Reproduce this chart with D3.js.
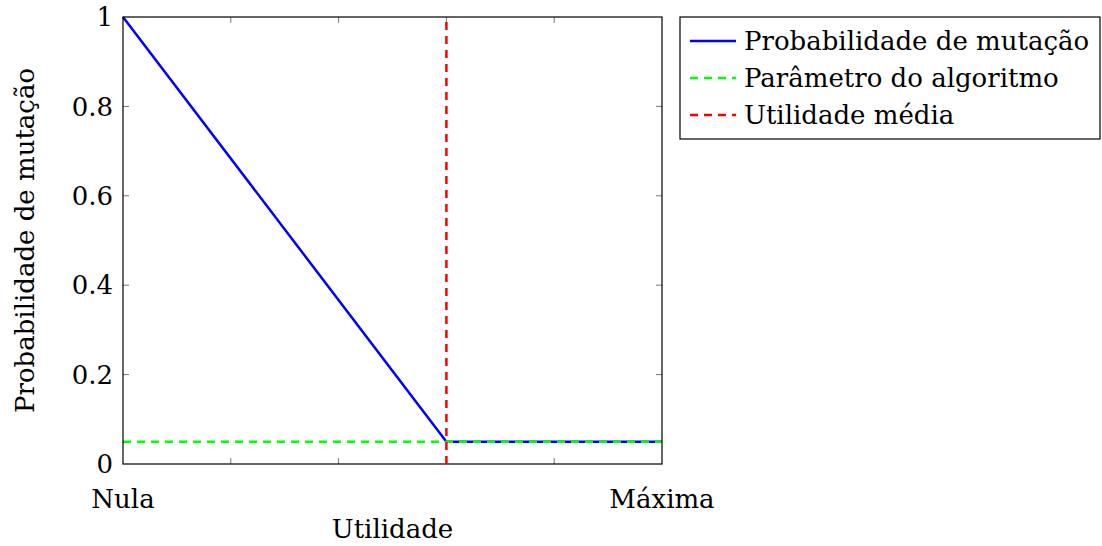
<!DOCTYPE html>
<html>
<head>
<meta charset="utf-8">
<script src="https://cdn.jsdelivr.net/npm/d3@7"></script>
<style>
  body { margin: 0; background: #fff; }
  text { font-family: "DejaVu Serif", "Liberation Serif", serif; }
</style>
</head>
<body>
<svg id="chart" width="1102" height="546"></svg>
<script>
// curve points (utility fraction -> mutation probability)
const curveX = [0, 0.6, 1];
const curveY = [1, 0.05, 0.05];
const paramValue = 0.05;      // parâmetro do algoritmo
const meanUtility = 0.6;      // utilidade média
const yTicks = [0, 0.2, 0.4, 0.6, 0.8, 1];
const xTicks = [0, 0.2, 0.4, 0.6, 0.8, 1];
const xTickLabels = [[0, "Nula"], [1, "Máxima"]];
const legendLabels = ["Probabilidade de mutação", "Parâmetro do algoritmo", "Utilidade média"];
const legendColors = ["#0000ff", "#00ff00", "#ff0000"];

const svg = d3.select("#chart");
const margin = { left: 123, right: 440, top: 17, bottom: 82 };
const width = 1102 - margin.left - margin.right;
const height = 546 - margin.top - margin.bottom;

const x = d3.scaleLinear().domain([0, 1]).range([margin.left, margin.left + width]);
const y = d3.scaleLinear().domain([0, 1]).range([margin.top + height, margin.top]);

const fontFamily = "DejaVu Serif";
const fontSize = 26;

// inner tick marks, like pgfplots
const tickLen = 6;
const ticks = svg.append("g").attr("stroke", "#777").attr("stroke-width", 1);
xTicks.slice(1, -1).forEach((t) => {
  ticks.append("line").attr("x1", x(t)).attr("x2", x(t)).attr("y1", y(0)).attr("y2", y(0) - tickLen);
  ticks.append("line").attr("x1", x(t)).attr("x2", x(t)).attr("y1", y(1)).attr("y2", y(1) + tickLen);
});
yTicks.slice(1, -1).forEach((t) => {
  ticks.append("line").attr("x1", x(0)).attr("x2", x(0) + tickLen).attr("y1", y(t)).attr("y2", y(t));
  ticks.append("line").attr("x1", x(1)).attr("x2", x(1) - tickLen).attr("y1", y(t)).attr("y2", y(t));
});

// y tick labels
svg.append("g")
  .selectAll("text")
  .data(yTicks)
  .join("text")
  .attr("x", x(0) - 10)
  .attr("y", (d) => y(d))
  .attr("dy", "0.35em")
  .attr("text-anchor", "end")
  .attr("font-family", fontFamily)
  .attr("font-size", fontSize)
  .text((d) => d3.format("")(d));

// x tick labels
svg.append("g")
  .selectAll("text")
  .data(xTickLabels)
  .join("text")
  .attr("x", (d) => x(d[0]))
  .attr("y", y(0) + 44)
  .attr("text-anchor", "middle")
  .attr("font-family", fontFamily)
  .attr("font-size", fontSize)
  .text((d) => d[1]);

// axis labels
svg.append("text")
  .attr("x", x(0.5))
  .attr("y", 538)
  .attr("text-anchor", "middle")
  .attr("font-family", fontFamily)
  .attr("font-size", fontSize)
  .text("Utilidade");

svg.append("text")
  .attr("transform", `translate(34, ${y(0.5)}) rotate(-90)`)
  .attr("text-anchor", "middle")
  .attr("font-family", fontFamily)
  .attr("font-size", fontSize)
  .text("Probabilidade de mutação");

// data lines
const curveData = curveX.map((v, i) => ({ x: v, y: curveY[i] }));
const line = d3.line().x((d) => x(d.x)).y((d) => y(d.y));

svg.append("path")
  .datum(curveData)
  .attr("fill", "none")
  .attr("stroke", legendColors[0])
  .attr("stroke-width", 2.5)
  .attr("stroke-linejoin", "round")
  .attr("d", line);

svg.append("path")
  .datum([{ x: 0, y: paramValue }, { x: 1, y: paramValue }])
  .attr("fill", "none")
  .attr("stroke", legendColors[1])
  .attr("stroke-width", 2.5)
  .attr("stroke-dasharray", "8,6")
  .attr("d", line);

// frame
svg.append("rect")
  .attr("x", x(0)).attr("y", y(1))
  .attr("width", width).attr("height", height)
  .attr("fill", "none").attr("stroke", "#000").attr("stroke-width", 1.2);

svg.append("path")
  .datum([{ x: meanUtility, y: 0 }, { x: meanUtility, y: 1 }])
  .attr("fill", "none")
  .attr("stroke", legendColors[2])
  .attr("stroke-width", 2.5)
  .attr("stroke-dasharray", "8,6")
  .attr("d", line);

// legend
const legend = svg.append("g").attr("transform", "translate(680, 17)");
legend.append("rect")
  .attr("width", 420).attr("height", 122)
  .attr("fill", "#fff").attr("stroke", "#000").attr("stroke-width", 1.2);
const dashes = [null, "8,6", "8,6"];
legendLabels.forEach((lab, i) => {
  const cy = 24 + i * 37;
  legend.append("line")
    .attr("x1", 10).attr("x2", 56).attr("y1", cy).attr("y2", cy)
    .attr("stroke", legendColors[i]).attr("stroke-width", 2.5)
    .attr("stroke-dasharray", dashes[i]);
  legend.append("text")
    .attr("x", 64).attr("y", cy).attr("dy", "0.35em")
    .attr("font-family", fontFamily)
    .attr("font-size", fontSize)
    .text(lab);
});
</script>
</body>
</html>
